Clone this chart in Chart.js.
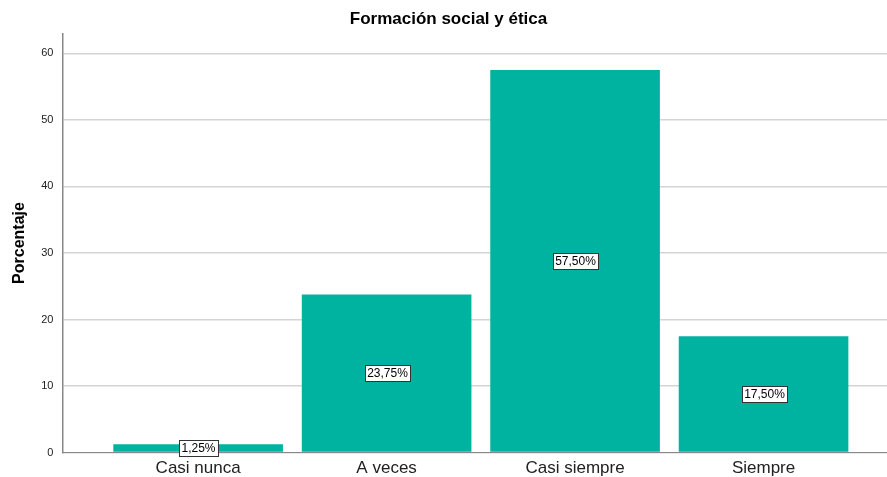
<!DOCTYPE html>
<html>
<head>
<meta charset="utf-8">
<script src="https://cdn.jsdelivr.net/npm/chart.js@4"></script>
<style>
  html, body { margin: 0; padding: 0; background: #fff; }
  #wrap { width: 887px; height: 477px; }
</style>
</head>
<body>
<div id="wrap"><canvas id="myChart" width="887" height="477"></canvas></div>
<script>
const categories = ["Casi nunca", "A veces", "Casi siempre", "Siempre"]
const percentages = [1.25, 23.75, 57.5, 17.5]
const valueLabels = ["1,25%", "23,75%", "57,50%", "17,50%"]
const yTicks = [0, 10, 20, 30, 40, 50, 60]

// boxed labels in the middle of each bar
const boxLabels = {
    id: "boxLabels",
    afterDatasetsDraw(chart) {
        const ctx = chart.ctx
        const meta = chart.getDatasetMeta(0)
        ctx.save()
        ctx.font = "12px 'Liberation Sans', Arial, sans-serif"
        ctx.textAlign = "center"
        ctx.textBaseline = "middle"
        meta.data.forEach((bar, i) => {
            const text = valueLabels[i]
            const cx = Math.round(bar.x)
            const cy = Math.round((bar.y + bar.base) / 2)
            const w = Math.ceil(ctx.measureText(text).width) + 4
            const h = 16
            const left = Math.round(cx - w / 2)
            const top = Math.round(cy - h / 2)
            ctx.fillStyle = "#fff"
            ctx.fillRect(left, top, w, h)
            ctx.strokeStyle = "#333"
            ctx.lineWidth = 1
            ctx.strokeRect(left + 0.5, top + 0.5, w, h)
            ctx.fillStyle = "#000"
            ctx.fillText(text, cx + 0.5, cy + 1)
        })
        ctx.restore()
    }
}

function main() {
    const ctx = document.getElementById("myChart")

    new Chart(ctx, {
        type: "bar",
        data: {
            datasets: [
                {
                    data: percentages.map((v, i) => ({ x: i, y: v })),
                    backgroundColor: "#00b3a0",
                    borderWidth: 0,
                    barPercentage: 0.9,
                    categoryPercentage: 1,
                },
            ],
        },
        plugins: [boxLabels],
        options: {
            responsive: false,
            animation: false,
            layout: { padding: { top: 4, right: 0, bottom: -8, left: 10 } },
            plugins: {
                legend: { display: false },
                tooltip: { enabled: false },
                title: {
                    display: true,
                    text: "Formación social y ética",
                    color: "#000",
                    font: { family: "'Liberation Sans', Arial, sans-serif", size: 17, weight: "bold" },
                    padding: { top: 5, bottom: 4 },
                },
            },
            scales: {
                x: {
                    type: "linear",
                    offset: false,
                    min: -0.72,
                    max: 3.655,
                    afterBuildTicks: scale => {
                        scale.ticks = categories.map((c, i) => ({ value: i }))
                    },
                    grid: { display: false, drawTicks: false },
                    border: { color: "#888", width: 1 },
                    ticks: {
                        callback: v => categories[v],
                        color: "#222",
                        padding: 6,
                        maxRotation: 0,
                        font: { family: "'Liberation Sans', Arial, sans-serif", size: 17 },
                    },
                },
                y: {
                    min: 0,
                    max: 63,
                    afterBuildTicks: scale => {
                        scale.ticks = yTicks.map(v => ({ value: v }))
                    },
                    grid: { color: "#d4d4d4", lineWidth: 1.5, drawTicks: false },
                    border: { color: "#888", width: 1.5 },
                    title: {
                        display: true,
                        text: "Porcentaje",
                        color: "#000",
                        font: { family: "'Liberation Sans', Arial, sans-serif", size: 16, weight: "bold" },
                        padding: { top: 0, bottom: 3 },
                    },
                    ticks: {
                        color: "#222",
                        padding: 9,
                        font: { family: "'Liberation Sans', Arial, sans-serif", size: 11 },
                    },
                },
            },
        },
    })
}

document.addEventListener("DOMContentLoaded", main)
</script>
</body>
</html>
